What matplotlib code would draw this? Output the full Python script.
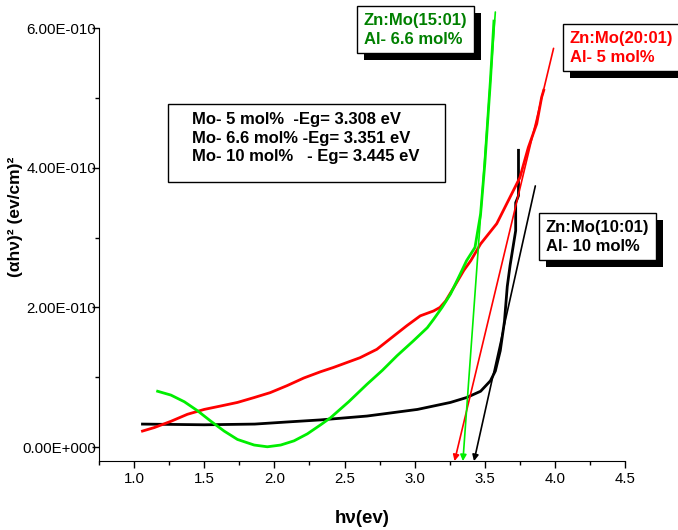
import matplotlib.pyplot as plt
import matplotlib.patheffects as pe
import numpy as np

plt.rcParams['font.family'] = ['Liberation Sans', 'DejaVu Sans']

# (alpha h nu)^2 curves, y in units of 1e-10
black_x = [1.06, 1.50, 1.86, 2.09, 2.33, 2.66, 3.02, 3.255, 3.37, 3.47, 3.54, 3.575, 3.61,
           3.64, 3.66, 3.68, 3.70, 3.72, 3.72, 3.74, 3.74]
black_y = [0.33, 0.32, 0.33, 0.36, 0.39, 0.445, 0.54, 0.64, 0.71, 0.80, 0.95, 1.09, 1.38,
           1.80, 2.30, 2.60, 2.85, 3.10, 3.50, 3.60, 4.25]

green_x = [1.168, 1.263, 1.358, 1.453, 1.548, 1.642, 1.737, 1.856, 1.95, 2.045, 2.14, 2.235,
           2.33, 2.40, 2.53, 2.66, 2.77, 2.875, 2.99, 3.09, 3.135, 3.195, 3.255, 3.325, 3.37,
           3.43, 3.47, 3.50, 3.54, 3.565]
green_y = [0.80, 0.745, 0.65, 0.52, 0.37, 0.23, 0.11, 0.03, 0.005, 0.03, 0.09, 0.19,
           0.32, 0.42, 0.65, 0.90, 1.10, 1.31, 1.52, 1.71, 1.83, 2.00, 2.19, 2.48, 2.67,
           2.86, 3.34, 4.06, 5.25, 6.10]

red_x = [1.06, 1.144, 1.263, 1.38, 1.50, 1.62, 1.737, 1.856, 1.97, 2.09, 2.21, 2.33, 2.42,
         2.61, 2.73, 2.85, 2.945, 3.04, 3.135, 3.18, 3.22, 3.28, 3.35, 3.40, 3.47, 3.585,
         3.68, 3.75, 3.81, 3.87, 3.905, 3.92]
red_y = [0.23, 0.28, 0.37, 0.47, 0.54, 0.59, 0.64, 0.71, 0.78, 0.88, 0.99, 1.08, 1.14,
         1.28, 1.40, 1.59, 1.74, 1.88, 1.95, 2.00, 2.09, 2.29, 2.53, 2.67, 2.91, 3.20,
         3.58, 3.86, 4.29, 4.63, 5.01, 5.11]

# tangent lines: band gap (x intercept) and upper end of each line
eg = {'red': 3.308, 'green': 3.351, 'black': 3.445}
tan_top_x = {'red': 3.99, 'green': 3.575, 'black': 3.86}
tan_top_y = {'red': 5.71, 'green': 6.23, 'black': 3.74}

scale = 1e-10
fig = plt.figure(figsize=(6.78, 5.30), dpi=100)
ax = fig.add_axes([0.146, 0.130, 0.776, 0.817])

ax.plot(black_x, np.array(black_y) * scale, color='black', lw=2.0)
ax.plot(red_x, np.array(red_y) * scale, color='#ff0000', lw=2.0)
ax.plot(green_x, np.array(green_y) * scale, color='#00ee00', lw=2.0, clip_on=False)

ymin, ymax = -0.2 * scale, 6.0 * scale
colors = {'red': '#ff0000', 'green': '#00ee00', 'black': 'black'}
for k in ['red', 'green', 'black']:
    slope = tan_top_y[k] * scale / (tan_top_x[k] - eg[k])
    tip_x = eg[k] + ymin / slope
    ax.annotate('', xy=(tip_x, ymin), xytext=(tan_top_x[k], tan_top_y[k] * scale),
                arrowprops=dict(arrowstyle='-|>', color=colors[k], lw=1.2,
                                mutation_scale=9, shrinkA=0, shrinkB=0),
                annotation_clip=False)

ax.set_xlim(0.75, 4.5)
ax.set_ylim(ymin, ymax)
ax.set_xticks(np.arange(1.0, 4.51, 0.5))
ax.set_xticks(np.arange(0.75, 4.51, 0.25), minor=True)
ax.set_yticks(np.arange(0, 6.01, 2) * scale)
ax.set_yticks(np.arange(0, 6.01, 1) * scale, minor=True)
ax.set_yticklabels(['0.00E+000', '2.00E-010', '4.00E-010', '6.00E-010'])
ax.set_xticklabels(['%.1f' % v for v in np.arange(1.0, 4.51, 0.5)])
ax.tick_params(axis='both', which='major', direction='out', length=5, width=1, labelsize=10.8)
ax.tick_params(axis='both', which='minor', direction='out', length=3, width=1)
ax.tick_params(axis='y', which='major', pad=-3)
ax.tick_params(axis='x', which='major', pad=3)
for s in ['top', 'right']:
    ax.spines[s].set_visible(False)

ax.set_xlabel('hν(ev)', fontsize=13.5, fontweight='bold', labelpad=17)
fig.text(23 / 678, 1 - 217 / 530, '(αhν)² (ev/cm)²', rotation=90, fontsize=12.5,
         fontweight='bold', ha='right', va='center')


def boxed(x, y, txt, color):
    t = fig.text(x / 678, 1 - y / 530, txt, color=color, fontsize=12,
                 fontweight='bold', ha='left', va='top', linespacing=1.3,
                 bbox=dict(boxstyle='square,pad=0.4', fc='white', ec='black', lw=1))
    t.get_bbox_patch().set_path_effects([
        pe.SimplePatchShadow(offset=(5, -5), shadow_rgbFace='black', alpha=1),
        pe.Normal()])
    return t


boxed(364, 13, 'Zn:Mo(15:01)\nAl- 6.6 mol%', '#008000')
boxed(570, 31, 'Zn:Mo(20:01)\nAl- 5 mol%', '#ff0000')
boxed(546, 220, 'Zn:Mo(10:01)\nAl- 10 mol%', 'black')
fig.text(192 / 678, 1 - 112 / 530,
         'Mo- 5 mol%  -Eg= 3.308 eV\nMo- 6.6 mol% -Eg= 3.351 eV\nMo- 10 mol%   - Eg= 3.445 eV',
         fontsize=12, fontweight='bold', ha='left', va='top', linespacing=1.3)
fig.patches.append(plt.Rectangle((168 / 678, 1 - 182 / 530), 277 / 678, 78 / 530,
                                 transform=fig.transFigure, fc='none', ec='black', lw=1))

fig.savefig('out.png', dpi=100)
